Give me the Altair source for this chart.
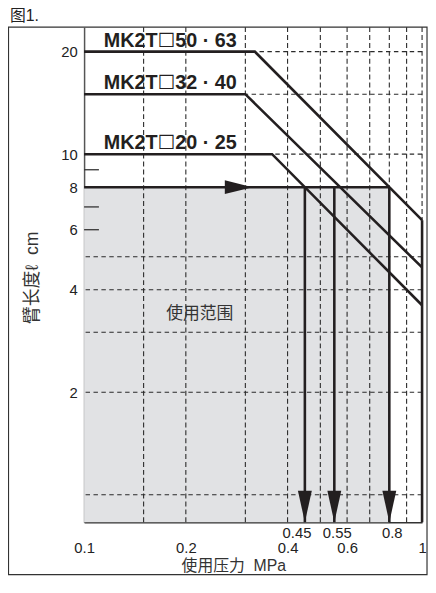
import altair as alt
import pandas as pd

FONT = "Liberation Sans, Arial, DejaVu Sans, Noto Sans CJK SC, sans-serif"
INK = "#231f20"
NB = "\u00a0"

# ---- data ----
x_grid = [0.15, 0.2, 0.3, 0.4, 0.5, 0.6, 0.7, 0.8, 0.9, 1.0]
y_grid = [1, 2, 3, 4, 5, 10, 15, 20]
x_labels = [0.1, 0.2, 0.4, 0.6, 1]
y_labels = [2, 4, 6, 8, 10, 20]
y_minor = [6, 7, 9]

series = ["MK2T☐50 · 63", "MK2T☐32 · 40", "MK2T☐20 · 25"]
curve_p = [[0.1, 0.32, 1.0], [0.1, 0.30, 1.0], [0.1, 0.36, 1.0]]
curve_l = [[20, 20, 6.4], [15, 15, 4.65], [10, 10, 3.6]]

arm_length = 8
arrow_tip_p = 0.315
work_pressures = [0.45, 0.55, 0.8]
max_pressure = 1.0
range_text = "使用范围"
range_text_p = 0.22
range_text_l = 3.4

x_title = "使用压力" + NB + NB + "MPa"
y_title = "臂长度ℓ" + NB + NB + "cm"

x_dom = [0.1, 1.0]
y_dom = [0.83, 23.6]

W, H = 342, 501
PAD_T, PAD_B = 16, 54

xs = alt.Scale(type="log", domain=x_dom, nice=False)
ys = alt.Scale(type="log", domain=y_dom, nice=False)

# ---- tables ----
curves = pd.DataFrame(
    [{"series": s, "p": p, "l": l, "k": k}
     for s, ps, ls in zip(series, curve_p, curve_l)
     for k, (p, l) in enumerate(zip(ps, ls))]
)
labels_df = pd.DataFrame({"series": series,
                          "p": [c[0] for c in curve_p],
                          "l": [c[0] for c in curve_l]})
shade = pd.DataFrame({"p": [x_dom[0]], "p2": [work_pressures[-1]],
                      "l": [y_dom[0]], "l2": [arm_length]})
xg = pd.DataFrame({"p": x_grid})
yg = pd.DataFrame({"l": y_grid})
ym = pd.DataFrame({"l": y_minor})
hline = pd.DataFrame({"p": [x_dom[0]], "p2": [work_pressures[-1]], "l": [arm_length]})
vlines = pd.DataFrame({"p": work_pressures, "l": arm_length, "l2": y_dom[0]})
vmax = pd.DataFrame({"p": [max_pressure], "l": [curve_l[0][-1]], "l2": [y_dom[0]]})
down_heads = pd.DataFrame({"p": work_pressures, "l": y_dom[0]})
right_head = pd.DataFrame({"p": [arrow_tip_p], "l": [arm_length]})
wp_first = pd.DataFrame({"p": work_pressures[:1]})
wp_rest = pd.DataFrame({"p": work_pressures[1:]})
rng = pd.DataFrame({"t": [range_text], "p": [range_text_p], "l": [range_text_l]})

xaxis = alt.Axis(values=x_labels, format="~g", ticks=False, grid=False,
                 labelFlush=False, labelOverlap=False, labelPadding=19,
                 labelFontSize=15, labelColor="#222", domainColor="#333",
                 domainWidth=1.6, title=x_title, titleFontSize=16,
                 titleFontWeight="normal", titleColor="#333", titleX=151,
                 titleY=44, titleBaseline="middle", titleAlign="center")
yaxis = alt.Axis(values=y_labels, format="~g", ticks=False, grid=False,
                 labelPadding=7, labelFontSize=15, labelColor="#222",
                 domainColor="#555", domainWidth=1.5,
                 title=y_title, titleFontSize=18, titleFontWeight="normal",
                 titleColor="#333", titleAngle=270, titleX=-52, titleY=253,
                 titleBaseline="middle", titleAlign="center")


def X(field="p"):
    return alt.X(f"{field}:Q", scale=xs, axis=xaxis)


def Y(field="l"):
    return alt.Y(f"{field}:Q", scale=ys, axis=yaxis)


frame = alt.Chart(alt.Data(values=[{}])).mark_rect(
    filled=False, stroke="#333", strokeWidth=1.2
).encode(x=alt.value(-76.5), x2=alt.value(347), y=alt.value(0),
         y2=alt.value(H + PAD_B - 1))

shade_l = alt.Chart(shade).mark_rect(fill="#e1e2e4").encode(
    x=X(), x2="p2:Q", y=Y(), y2="l2:Q")

dash = dict(stroke="#2a2a2a", strokeWidth=1.1)
xgrid_l = alt.Chart(xg).mark_rule(strokeDash=[5, 3], **dash).encode(x=X())
ygrid_l = alt.Chart(yg).mark_rule(strokeDash=[4.5, 3.5], **dash).encode(y=Y())
yminor_l = alt.Chart(ym).mark_rule(stroke="#333", strokeWidth=1.3).encode(
    y=Y(), x=alt.value(0), x2=alt.value(15))

curves_l = alt.Chart(curves).mark_line(strokeWidth=2.6, color=INK).encode(
    x=X(), y=Y(), detail="series:N", order="k:Q")

hline_l = alt.Chart(hline).mark_rule(strokeWidth=2.6, color=INK).encode(
    x=X(), x2="p2:Q", y=Y())
vlines_l = alt.Chart(vlines).mark_rule(strokeWidth=2.6, color=INK).encode(
    x=X(), y=Y(), y2="l2:Q")
vmax_l = alt.Chart(vmax).mark_rule(strokeWidth=2.6, color=INK).encode(
    x=X(), y=Y(), y2="l2:Q")

down_l = alt.Chart(down_heads).mark_point(
    shape="M-0.44,-2L0.44,-2L0,0Z", size=1024, filled=True, opacity=1,
    color=INK, strokeWidth=0).encode(x=X(), y=Y())
right_l = alt.Chart(right_head).mark_point(
    shape="M-2,-0.5L0,0L-2,0.5Z", size=784, filled=True, opacity=1,
    color=INK, strokeWidth=0).encode(x=X(), y=Y())

lab_l = alt.Chart(labels_df).mark_text(
    font=FONT, fontSize=20, fontWeight="bold", color=INK, align="left",
    baseline="alphabetic", dx=20, dy=-5).encode(
    x=X(), y=Y(), text="series:N")

wp1_l = alt.Chart(wp_first).mark_text(
    font=FONT, fontSize=15, color="#222", baseline="middle", dx=-8).encode(
    x=X(), y=alt.value(H + 11), text=alt.Text("p:Q", format="~g"))
wp2_l = alt.Chart(wp_rest).mark_text(
    font=FONT, fontSize=15, color="#222", baseline="middle", dx=3).encode(
    x=X(), y=alt.value(H + 11), text=alt.Text("p:Q", format="~g"))

rng_l = alt.Chart(rng).mark_text(
    font=FONT, fontSize=17, color="#333", baseline="middle").encode(
    x=X(), y=Y(), text="t:N")

chart = alt.layer(
    frame, shade_l, xgrid_l, ygrid_l, yminor_l, curves_l, hline_l,
    vlines_l, vmax_l, down_l, right_l, lab_l, wp1_l, wp2_l, rng_l
).properties(
    width=W, height=H,
    padding={"left": 77, "top": PAD_T, "right": 6, "bottom": PAD_B},
    autosize=alt.AutoSizeParams(type="none"),
    title=alt.Title("图1.", anchor="start", frame="group", dx=-75, offset=3,
                    fontSize=16, fontWeight="normal", font=FONT, color="#222"),
).configure_view(stroke=None).configure_axis(labelFont=FONT, titleFont=FONT)

chart.save("out.html", embed_options={"renderer": "svg", "actions": False})
